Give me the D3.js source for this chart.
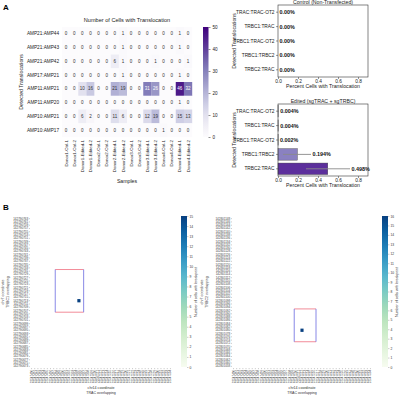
<!DOCTYPE html>
<html>
<head>
<meta charset="utf-8">
<script src="https://cdn.jsdelivr.net/npm/d3@7"></script>
<style>
  body { margin: 0; background: #fff; }
  svg { font-family: "Liberation Sans", Arial, sans-serif; }
</style>
</head>
<body>
<svg id="fig" width="400" height="396"></svg>
<script>
// ---- panel A: heatmap ----
const ampRows = ['AMP21:AMP44', 'AMP21:AMP43', 'AMP21:AMP42', 'AMP17:AMP21',
                 'AMP11:AMP21', 'AMP11:AMP20', 'AMP10:AMP21', 'AMP10:AMP17'];
const samples = ['Donor1-Ctrl-1', 'Donor1-Ctrl-2', 'Donor1-Edited-1', 'Donor1-Edited-2',
                 'Donor2-Ctrl-1', 'Donor2-Ctrl-2', 'Donor2-Edited-1', 'Donor2-Edited-2',
                 'Donor3-Ctrl-1', 'Donor3-Ctrl-2', 'Donor3-Edited-1', 'Donor3-Edited-2',
                 'Donor4-Ctrl-1', 'Donor4-Ctrl-2', 'Donor4-Edited-1', 'Donor4-Edited-2'];
const cellCounts = [
    [0, 0, 0, 0, 0, 0, 0, 1, 0, 0, 0, 0, 0, 0, 1, 0],
    [0, 0, 0, 0, 0, 0, 0, 1, 0, 0, 0, 0, 0, 0, 1, 0],
    [0, 0, 0, 0, 0, 0, 6, 1, 0, 0, 0, 1, 0, 0, 0, 1],
    [0, 0, 0, 0, 0, 0, 0, 1, 0, 0, 0, 0, 0, 0, 1, 0],
    [0, 0, 10, 16, 0, 0, 21, 19, 0, 0, 31, 26, 0, 0, 46, 32],
    [0, 0, 0, 0, 0, 0, 0, 0, 0, 0, 0, 0, 0, 0, 1, 0],
    [0, 0, 6, 2, 0, 0, 11, 6, 0, 0, 12, 19, 0, 0, 15, 13],
    [0, 0, 0, 0, 0, 0, 0, 0, 0, 0, 0, 0, 1, 0, 0, 0]
];
const countTicks = [0, 10, 20, 30, 40, 50];

// ---- panel A: bar plots ----
const transCats = ['TRAC:TRAC-OT2', 'TRBC1:TRAC', 'TRBC1:TRAC-OT2', 'TRBC1:TRBC2', 'TRBC2:TRAC'];
const ctrlPct = [0, 0, 0, 0, 0];
const ctrlLabels = ['0.00%', '0.00%', '0.00%', '0.00%', '0.00%'];
const editPct = [0.004, 0.004, 0.002, 0.194, 0.498];
const editLo = [0, 0, 0, 0.05, 0.28];
const editHi = [0.008, 0.008, 0.004, 0.33, 0.72];
const editLabels = ['0.004%', '0.004%', '0.002%', '0.194%', '0.498%'];
const editColors = ['#dcdaeb', '#dcdaeb', '#dcdaeb', '#8a81c1', '#5c2f9c'];
const pctTicks = [0, 0.2, 0.4, 0.6, 0.8];

// ---- panel B: breakpoint heatmaps ----
const b1Start = 142790763, b1Rows = 46;       // chr7, TRBC1 side
const b2Start = 142801148, b2Rows = 46;       // chr7, TRBC2 side
const tracStart = 22547490, tracCols = 45;    // chr14, TRAC side
const b1Points = [{ x: 22547505, y: 142790713, v: 15 }];
const b2Points = [{ x: 22547512, y: 142801080, v: 16 }];
const b1Box = { x0: 22547498, x1: 22547506, y0: 142790731, y1: 142790707 };
const b2Box = { x0: 22547510, x1: 22547516, y0: 142801092, y1: 142801074 };
const b1Max = 15, b2Max = 16;

const svg = d3.select('#fig');
const FS = 4.7;

function lum(c) {
    const rgb = d3.rgb(c);
    const f = v => { v /= 255; return v <= 0.03928 ? v / 12.92 : Math.pow((v + 0.055) / 1.055, 2.4); };
    return 0.2126 * f(rgb.r) + 0.7152 * f(rgb.g) + 0.0722 * f(rgb.b);
}

function gradient(id, interp) {
    const lg = svg.append('defs').append('linearGradient')
        .attr('id', id).attr('x1', 0).attr('y1', 1).attr('x2', 0).attr('y2', 0);
    d3.range(0, 1.0001, 0.1).forEach(t => {
        lg.append('stop').attr('offset', t).attr('stop-color', interp(t));
    });
}

// panel labels
svg.append('text').attr('x', 3).attr('y', 10).attr('font-size', 8).attr('font-weight', 'bold').text('A');
svg.append('text').attr('x', 3).attr('y', 210).attr('font-size', 8).attr('font-weight', 'bold').text('B');

// ---------- heatmap A ----------
const hx = d3.scaleBand().domain(samples).range([62, 192]);
const hy = d3.scaleBand().domain(ampRows).range([27, 137]);
const purple = d3.scaleSequential(d3.interpolatePurples).domain([0, 50]);

const gA = svg.append('g');
ampRows.forEach((r, i) => {
    samples.forEach((s, j) => {
        const v = cellCounts[i][j];
        const c = purple(v);
        gA.append('rect')
            .attr('x', hx(s)).attr('y', hy(r))
            .attr('width', hx.bandwidth() + 0.2).attr('height', hy.bandwidth() + 0.2)
            .attr('fill', c);
        gA.append('text')
            .attr('x', hx(s) + hx.bandwidth() / 2)
            .attr('y', hy(r) + hy.bandwidth() / 2)
            .attr('text-anchor', 'middle').attr('dominant-baseline', 'central')
            .attr('font-size', 4.5)
            .attr('fill', lum(c) < 0.408 ? '#fff' : '#333')
            .text(v);
    });
});

gA.selectAll('.rowlab').data(ampRows).enter().append('text')
    .attr('x', 59).attr('y', d => hy(d) + hy.bandwidth() / 2)
    .attr('text-anchor', 'end').attr('dominant-baseline', 'central')
    .attr('font-size', FS).attr('fill', '#222').text(d => d);

gA.selectAll('.collab').data(samples).enter().append('text')
    .attr('transform', d => `translate(${hx(d) + hx.bandwidth() / 2 + 1.6},140) rotate(-90)`)
    .attr('text-anchor', 'end')
    .attr('font-size', 4.4).attr('fill', '#222').text(d => d);

gA.append('text').attr('x', 127).attr('y', 22).attr('text-anchor', 'middle')
    .attr('font-size', 5.6).attr('fill', '#222').text('Number of Cells with Translocation');
gA.append('text').attr('x', 127).attr('y', 183).attr('text-anchor', 'middle')
    .attr('font-size', 5.2).attr('fill', '#222').text('Samples');
gA.append('text').attr('transform', 'translate(23,82) rotate(-90)').attr('text-anchor', 'middle')
    .attr('font-size', 5.2).attr('fill', '#222').text('Detected Translocations');

// colorbar A
gradient('gPurples', d3.interpolatePurples);
const cbA = d3.scaleLinear().domain([0, 50]).range([137, 27]);
gA.append('rect').attr('x', 203).attr('y', 27).attr('width', 5.5).attr('height', 110)
    .attr('fill', 'url(#gPurples)');
const cbAxisA = gA.append('g').attr('transform', 'translate(208.5,0)')
    .call(d3.axisRight(cbA).tickValues(countTicks).tickSize(2).tickPadding(2));
cbAxisA.select('.domain').remove();
cbAxisA.selectAll('text').attr('font-size', 4.6).attr('fill', '#222').attr('font-family', null);
cbAxisA.selectAll('line').attr('stroke', '#222').attr('stroke-width', 0.5);

// ---------- bar plots ----------
function barPanel(top, title, vals, labels, lo, hi, colors) {
    const g = svg.append('g');
    const x = d3.scaleLinear().domain([0, 0.9]).range([278, 368]);
    const y = d3.scaleBand().domain(transCats).range([top, top + 72]).paddingInner(0.2).paddingOuter(0.1);

    g.selectAll('.bar').data(transCats).enter().append('rect')
        .attr('x', x(0)).attr('y', d => y(d))
        .attr('width', (d, i) => x(vals[i]) - x(0)).attr('height', y.bandwidth())
        .attr('fill', (d, i) => colors[i]).attr('stroke', '#444').attr('stroke-width', 0.4);

    if (lo) {
        g.selectAll('.err').data(transCats).enter().append('line')
            .attr('x1', (d, i) => x(lo[i])).attr('x2', (d, i) => x(hi[i]))
            .attr('y1', d => y(d) + y.bandwidth() / 2).attr('y2', d => y(d) + y.bandwidth() / 2)
            .attr('stroke', '#8a8a8a').attr('stroke-width', 0.9);
    }

    g.selectAll('.val').data(transCats).enter().append('text')
        .attr('x', (d, i) => (hi ? x(hi[i]) : x(vals[i])) + 1.5)
        .attr('y', d => y(d) + y.bandwidth() / 2)
        .attr('dominant-baseline', 'central')
        .attr('font-size', 5.4).attr('font-weight', 'bold').attr('fill', '#111')
        .text((d, i) => labels[i]);

    g.append('rect').attr('x', 278).attr('y', top).attr('width', 90).attr('height', 72)
        .attr('fill', 'none').attr('stroke', '#333').attr('stroke-width', 0.6);

    const ya = g.append('g').attr('transform', 'translate(278,0)')
        .call(d3.axisLeft(y).tickSize(2).tickPadding(1.5));
    ya.select('.domain').remove();
    ya.selectAll('text').attr('font-size', 4.8).attr('fill', '#222').attr('font-family', null);
    ya.selectAll('line').attr('stroke', '#333').attr('stroke-width', 0.5);

    const xa = g.append('g').attr('transform', `translate(0,${top + 72})`)
        .call(d3.axisBottom(x).tickValues(pctTicks).tickFormat(d3.format('.1f')).tickSize(2).tickPadding(1));
    xa.select('.domain').remove();
    xa.selectAll('text').attr('font-size', 4.8).attr('fill', '#222').attr('font-family', null);
    xa.selectAll('line').attr('stroke', '#333').attr('stroke-width', 0.5);

    g.append('text').attr('x', 323).attr('y', top - 1.5).attr('text-anchor', 'middle')
        .attr('font-size', 5.2).attr('fill', '#222').text(title);
    g.append('text').attr('x', 323).attr('y', top + 83).attr('text-anchor', 'middle')
        .attr('font-size', 5.2).attr('fill', '#222').text('Percent Cells with Translocation');
    g.append('text').attr('transform', `translate(236,${top + 36}) rotate(-90)`).attr('text-anchor', 'middle')
        .attr('font-size', 5.2).attr('fill', '#222').text('Detected Translocations');
}

barPanel(5, 'Control (Non-Transfected)', ctrlPct, ctrlLabels, null, null, editColors);
barPanel(104, 'Edited (sgTRAC + sgTRBC)', editPct, editLabels, editLo, editHi, editColors);

// ---------- panel B ----------
gradient('gGnBu', d3.interpolateGnBu);

function breakpointMap(opt) {
    const g = svg.append('g');
    const rows = d3.range(opt.rows).map(i => opt.yStart - 2 * i);
    const cols = d3.range(tracCols).map(i => tracStart + i);
    const x = d3.scaleBand().domain(cols).range([opt.x0, opt.x1]);
    const y = d3.scaleBand().domain(rows).range([217, 368]);
    const col = d3.scaleSequential(d3.interpolateGnBu).domain([0, opt.max]);

    opt.points.forEach(p => {
        g.append('rect').attr('x', x(p.x)).attr('y', y(p.y))
            .attr('width', x.bandwidth()).attr('height', y.bandwidth())
            .attr('fill', col(p.v));
    });

    const bx0 = x(opt.box.x0), bx1 = x(opt.box.x1) + x.bandwidth();
    const by0 = y(opt.box.y0), by1 = y(opt.box.y1) + y.bandwidth();
    g.append('line').attr('x1', bx0).attr('x2', bx1).attr('y1', by0).attr('y2', by0).attr('stroke', '#ef6f7f').attr('stroke-width', 0.8);
    g.append('line').attr('x1', bx0).attr('x2', bx1).attr('y1', by1).attr('y2', by1).attr('stroke', '#ef6f7f').attr('stroke-width', 0.8);
    g.append('line').attr('x1', bx0).attr('x2', bx0).attr('y1', by0).attr('y2', by1).attr('stroke', '#6a6ae0').attr('stroke-width', 0.8);
    g.append('line').attr('x1', bx1).attr('x2', bx1).attr('y1', by0).attr('y2', by1).attr('stroke', '#6a6ae0').attr('stroke-width', 0.8);

    const ya = g.append('g').attr('transform', `translate(${opt.x0},0)`)
        .call(d3.axisLeft(y).tickSize(1.2).tickPadding(0.6));
    ya.select('.domain').remove();
    ya.selectAll('text').attr('font-size', 3).attr('fill', '#444').attr('font-family', null);
    ya.selectAll('line').attr('stroke', '#555').attr('stroke-width', 0.3);

    const xa = g.append('g').attr('transform', 'translate(0,368)')
        .call(d3.axisBottom(x).tickSize(1.2).tickPadding(0.6));
    xa.select('.domain').remove();
    xa.selectAll('text').attr('font-size', 3).attr('fill', '#444').attr('font-family', null)
        .attr('text-anchor', 'end').attr('dy', null).attr('dominant-baseline', 'central')
        .attr('transform', 'translate(0,1.8) rotate(-90)').attr('y', 0).attr('x', 0);
    xa.selectAll('line').attr('stroke', '#555').attr('stroke-width', 0.3);

    const xm = (opt.x0 + opt.x1) / 2;
    g.append('text').attr('x', xm).attr('y', 389).attr('text-anchor', 'middle')
        .attr('font-size', 3.6).attr('fill', '#333').text('chr14 coordinate');
    g.append('text').attr('x', xm).attr('y', 393.5).attr('text-anchor', 'middle')
        .attr('font-size', 3.6).attr('fill', '#333').text('TRAC overlapping');
    g.append('text').attr('transform', `translate(${opt.ylabX},292) rotate(-90)`).attr('text-anchor', 'middle')
        .attr('font-size', 3.6).attr('fill', '#333').text('chr7 coordinate');
    g.append('text').attr('transform', `translate(${opt.ylabX + 4.5},292) rotate(-90)`).attr('text-anchor', 'middle')
        .attr('font-size', 3.6).attr('fill', '#333').text(opt.ylab);

    // colorbar
    const cb = d3.scaleLinear().domain([0, opt.max]).range([367, 216]);
    g.append('rect').attr('x', opt.cbX).attr('y', 216).attr('width', 6).attr('height', 151)
        .attr('fill', 'url(#gGnBu)');
    const ca = g.append('g').attr('transform', `translate(${opt.cbX + 6},0)`)
        .call(d3.axisRight(cb).ticks(opt.max).tickSize(1.5).tickPadding(1));
    ca.select('.domain').remove();
    ca.selectAll('text').attr('font-size', 3.3).attr('fill', '#333').attr('font-family', null);
    ca.selectAll('line').attr('stroke', '#555').attr('stroke-width', 0.3);
    g.append('text').attr('transform', `translate(${opt.cbX + 16},292) rotate(-90)`).attr('text-anchor', 'middle')
        .attr('font-size', 3.6).attr('fill', '#333').text('Number of cells with breakpoint');
}

breakpointMap({ x0: 30, x1: 172, rows: b1Rows, yStart: b1Start, points: b1Points, box: b1Box,
                max: b1Max, cbX: 181, ylabX: 4, ylab: 'TRBC1 overlapping' });
breakpointMap({ x0: 232, x1: 372, rows: b2Rows, yStart: b2Start, points: b2Points, box: b2Box,
                max: b2Max, cbX: 382, ylabX: 203, ylab: 'TRBC2 overlapping' });
</script>
</body>
</html>
